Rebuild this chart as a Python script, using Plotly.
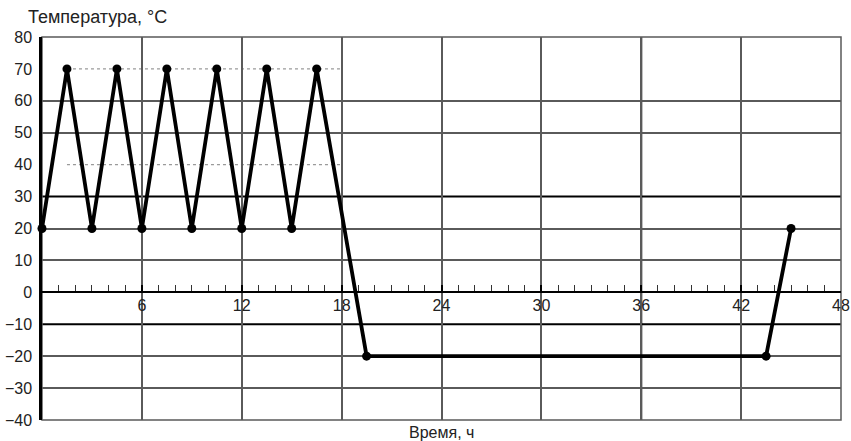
import plotly.graph_objects as go

# ---- data ----
time_h = [0, 1.5, 3, 4.5, 6, 7.5, 9, 10.5, 12, 13.5, 15, 16.5, 19.5, 43.5, 45]
temp_c = [20, 70, 20, 70, 20, 70, 20, 70, 20, 70, 20, 70, -20, -20, 20]

x_ticks = [6, 12, 18, 24, 30, 36, 42, 48]
y_ticks = [80, 70, 60, 50, 40, 30, 20, 10, 0, -10, -20, -30, -40]
y_grid = [60, 50, 20, 10, -20, -30]
y_grid_bold = [30, -10]
x_grid_bold = [36]
y_dotted = [70, 40]
dotted_span = [1.5, 18]
x_range = [0, 48]
y_range = [-40, 80]

FONT = "Liberation Sans, Arial, sans-serif"
GRID = "#5a5a5a"

fig = go.Figure()
fig.add_trace(go.Scatter(
    x=time_h, y=temp_c, mode="lines+markers",
    line=dict(color="black", width=3.8),
    marker=dict(color="black", size=9),
    cliponaxis=False, showlegend=False, hoverinfo="x+y",
))

shapes = []
for v in y_grid_bold:
    shapes.append(dict(type="line", xref="paper", yref="y", x0=0, x1=1, y0=v, y1=v,
                       line=dict(color="black", width=2), layer="below"))
for v in x_grid_bold:
    shapes.append(dict(type="line", xref="x", yref="paper", x0=v, x1=v, y0=0, y1=1,
                       line=dict(color="black", width=2), layer="below"))
for v in y_dotted:
    shapes.append(dict(type="line", xref="x", yref="y", x0=dotted_span[0], x1=dotted_span[1],
                       y0=v, y1=v, line=dict(color="#9a9a9a", width=1.2, dash="dot"),
                       layer="below"))
shapes.append(dict(type="rect", xref="paper", yref="paper", x0=0, x1=1, y0=0, y1=1,
                   line=dict(color=GRID, width=1.5), layer="below"))

zero_pos = (0 - y_range[0]) / (y_range[1] - y_range[0])

fig.update_layout(
    width=851, height=441,
    margin=dict(l=42, r=10, t=37, b=21, autoexpand=False),
    paper_bgcolor="white", plot_bgcolor="white",
    font=dict(family=FONT, size=16, color="#222"),
    shapes=shapes,
    xaxis=dict(
        range=x_range, tickvals=x_ticks, anchor="free", position=zero_pos,
        automargin=False, ticklabeloverflow="allow",
        showline=True, linecolor="black", linewidth=2,
        showgrid=True, gridcolor=GRID, gridwidth=1.5,
        ticks="inside", ticklen=6, tickcolor="black", tickwidth=1.5,
        minor=dict(dtick=1, tick0=0, ticks="inside", ticklen=6, tickcolor="#333",
                   tickwidth=1.2, showgrid=False),
        zeroline=False, tickfont=dict(size=16), ticklabelstandoff=-2,
    ),
    yaxis=dict(
        range=y_range, tickvals=y_ticks, showgrid=False, zeroline=False,
        automargin=False,
        showline=True, linecolor="black", linewidth=2.5,
        ticks="", tickfont=dict(size=16), ticklabelstandoff=4,
        minor=dict(tickvals=y_grid, showgrid=True, gridcolor=GRID, gridwidth=1.5,
                   ticks=""),
    ),
    annotations=[
        dict(text="Температура, °С", xref="paper", yref="paper", x=(26 - 42) / 799, y=1,
             xanchor="left", yanchor="bottom", yshift=8, showarrow=False,
             font=dict(size=18, color="#222")),
        dict(text="Время, ч", xref="paper", yref="paper", x=0.5, y=0,
             xanchor="center", yanchor="top", yshift=-2, showarrow=False,
             font=dict(size=16, color="#222")),
    ],
)

fig.write_html("out.html", config={"displayModeBar": False},
               post_script="document.body.style.margin='0';document.body.style.overflow='hidden';")
